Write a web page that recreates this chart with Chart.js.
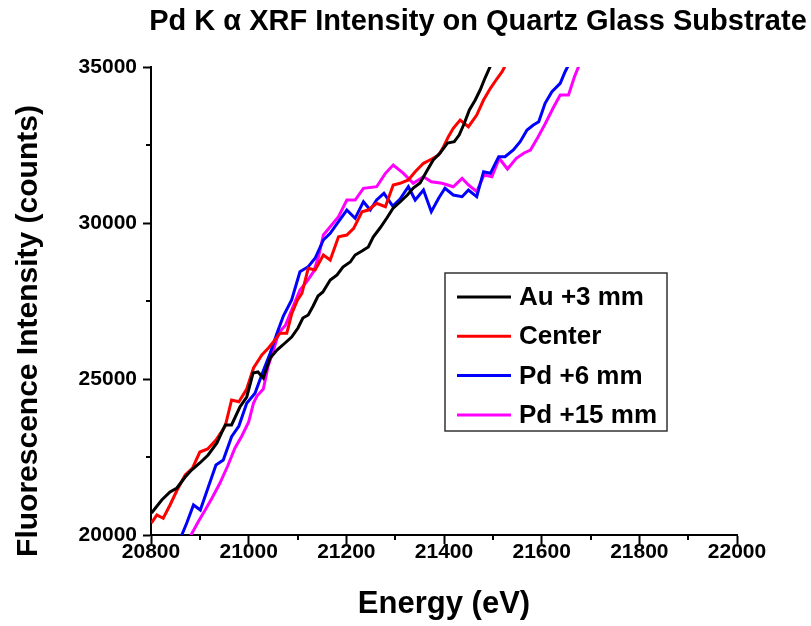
<!DOCTYPE html>
<html>
<head>
<meta charset="utf-8">
<title>Pd K α XRF Intensity</title>
<script src="https://cdn.jsdelivr.net/npm/chart.js@4.4.1/dist/chart.umd.min.js"></script>
<style>
  html, body { margin: 0; padding: 0; background: #fff; }
  canvas { display: block; }
</style>
</head>
<body>
<canvas id="xrfChart" width="811" height="626"></canvas>
<script>
// Pd K-alpha scans, energy (eV) vs counts, one pair of arrays per position
const energyAu = [20801, 20822, 20839, 20853, 20870, 20883, 20900, 20917, 20935, 20952, 20965, 20982, 20996, 21009, 21019, 21030, 21044, 21058, 21070, 21088, 21101, 21111, 21122, 21132, 21142, 21152, 21167, 21181, 21193, 21208, 21218, 21232, 21245, 21255, 21269, 21283, 21296, 21310, 21325, 21337, 21351, 21366, 21378, 21392, 21407, 21421, 21431, 21441, 21452, 21464, 21474, 21484, 21495, 21505];
const countsAu = [20705, 21122, 21378, 21506, 21859, 22083, 22308, 22564, 22949, 23526, 23526, 24102, 24423, 25192, 25224, 25032, 25673, 25929, 26090, 26346, 26634, 26955, 27051, 27339, 27660, 27788, 28173, 28333, 28589, 28750, 28974, 29102, 29230, 29551, 29839, 30160, 30480, 30673, 30897, 31121, 31282, 31698, 32019, 32243, 32564, 32605, 32820, 33173, 33621, 33942, 34262, 34647, 35031, 35384];

const energyCenter = [20801, 20812, 20825, 20839, 20853, 20870, 20885, 20900, 20916, 20933, 20952, 20965, 20980, 20996, 21010, 21027, 21040, 21051, 21064, 21078, 21088, 21100, 21109, 21122, 21136, 21153, 21167, 21184, 21201, 21215, 21232, 21245, 21262, 21280, 21296, 21310, 21327, 21341, 21358, 21375, 21389, 21399, 21409, 21419, 21433, 21450, 21467, 21481, 21495, 21508, 21519, 21525, 21536];
const countsCenter = [20385, 20641, 20535, 20962, 21426, 21923, 22147, 22660, 22756, 23045, 23493, 24327, 24272, 24679, 25352, 25769, 25984, 26195, 26464, 26464, 27083, 27532, 27747, 28548, 28493, 28974, 28814, 29561, 29615, 29830, 30362, 30416, 30631, 30522, 31218, 31272, 31378, 31644, 31913, 32051, 32179, 32445, 32766, 33035, 33301, 33086, 33461, 33942, 34317, 34615, 34849, 35031, 35320];

const energyPd6 = [20851, 20863, 20873, 20887, 20901, 20917, 20933, 20948, 20965, 20980, 20996, 21013, 21028, 21044, 21058, 21071, 21088, 21105, 21122, 21136, 21153, 21167, 21184, 21201, 21218, 21235, 21249, 21262, 21277, 21295, 21310, 21327, 21341, 21358, 21374, 21389, 21402, 21419, 21437, 21450, 21467, 21481, 21495, 21512, 21525, 21542, 21556, 21570, 21583, 21594, 21607, 21621, 21638, 21648, 21655, 21663];
const countsPd6 = [19519, 20000, 20375, 20962, 20801, 21522, 22244, 22404, 23151, 23493, 24221, 24542, 25183, 25824, 26464, 27019, 27532, 28439, 28599, 28868, 29455, 29669, 30042, 30416, 30150, 30683, 30416, 30737, 30951, 30544, 30769, 31163, 30737, 31057, 30362, 30791, 31112, 30897, 30843, 31057, 30843, 31644, 31592, 32125, 32125, 32339, 32605, 32980, 33141, 33246, 33836, 34208, 34477, 34849, 35064, 35352];

const energyPd15 = [20872, 20882, 20897, 20911, 20925, 20941, 20957, 20972, 20986, 21000, 21010, 21017, 21030, 21040, 21051, 21061, 21075, 21088, 21105, 21119, 21133, 21143, 21153, 21167, 21184, 21201, 21218, 21235, 21262, 21280, 21296, 21317, 21337, 21358, 21374, 21396, 21419, 21437, 21450, 21467, 21482, 21498, 21513, 21530, 21548, 21564, 21577, 21592, 21607, 21624, 21638, 21655, 21667, 21676, 21683];
const countsPd15 = [19680, 20000, 20433, 20801, 21186, 21657, 22211, 22788, 23173, 23622, 24231, 24455, 24679, 25416, 25929, 26464, 26714, 27211, 27852, 28118, 28439, 28919, 29615, 29881, 30202, 30737, 30737, 31112, 31163, 31592, 31859, 31592, 31272, 31484, 31323, 31272, 31163, 31432, 31218, 31003, 31538, 31484, 32073, 31730, 32073, 32243, 32339, 32740, 33173, 33701, 34102, 34102, 34679, 35031, 35288];

const seriesLabels = ['Au +3 mm', 'Center', 'Pd +6 mm', 'Pd +15 mm'];
const seriesColors = ['#000000', '#ff0000', '#0000ff', '#ff00ff'];

// axis limits and tick positions
const xRange = [20800, 22000];
const yRange = [20000, 35000];
const xMinorTicks = [20900, 21100, 21300, 21500, 21700, 21900];
const yMinorTicks = [22500, 27500, 32500];

const chartTitle = 'Pd K \u03b1 XRF Intensity on Quartz Glass Substrate';
const xTitle = 'Energy (eV)';
const yTitle = 'Fluorescence Intensity (counts)';

const FONT = '"Liberation Sans", Arial, Helvetica, sans-serif';

function toPoints(xs, ys) {
    return xs.map((x, i) => ({ x: x, y: ys[i] }));
}

const series = [
    toPoints(energyAu, countsAu),
    toPoints(energyCenter, countsCenter),
    toPoints(energyPd6, countsPd6),
    toPoints(energyPd15, countsPd15)
];

// title, rotated y title, minor ticks and the boxed legend
const extras = {
    id: 'extras',
    afterDraw(chart) {
        const ctx = chart.ctx;
        const xs = chart.scales.x;
        const ys = chart.scales.y;
        ctx.save();

        ctx.strokeStyle = '#000';
        ctx.lineWidth = 2;
        xMinorTicks.forEach(v => {
            const px = Math.round(xs.getPixelForValue(v));
            ctx.beginPath();
            ctx.moveTo(px, ys.bottom);
            ctx.lineTo(px, ys.bottom + 5);
            ctx.stroke();
        });
        yMinorTicks.forEach(v => {
            const py = Math.round(ys.getPixelForValue(v));
            ctx.beginPath();
            ctx.moveTo(xs.left, py);
            ctx.lineTo(xs.left - 5, py);
            ctx.stroke();
        });

        ctx.fillStyle = '#000';
        ctx.textAlign = 'center';
        ctx.textBaseline = 'middle';
        ctx.font = 'bold 29px ' + FONT;
        ctx.fillText(chartTitle, 478, 22);

        ctx.save();
        ctx.translate(29, 331);
        ctx.rotate(-Math.PI / 2);
        ctx.font = 'bold 30px ' + FONT;
        ctx.fillText(yTitle, 0, 0);
        ctx.restore();

        // legend box
        const box = { left: 445, top: 273, width: 222, height: 158 };
        ctx.strokeStyle = '#333';
        ctx.lineWidth = 1.5;
        ctx.fillStyle = '#fff';
        ctx.fillRect(box.left, box.top, box.width, box.height);
        ctx.strokeRect(box.left, box.top, box.width, box.height);
        ctx.font = 'bold 26px ' + FONT;
        ctx.textAlign = 'left';
        chart.data.datasets.forEach((ds, i) => {
            const cy = 297 + i * 39.3;
            ctx.strokeStyle = ds.borderColor;
            ctx.lineWidth = 3;
            ctx.beginPath();
            ctx.moveTo(457, cy);
            ctx.lineTo(511, cy);
            ctx.stroke();
            ctx.fillStyle = '#000';
            ctx.fillText(ds.label, 519, cy + 1);
        });

        ctx.restore();
    }
};

new Chart(document.getElementById('xrfChart'), {
    type: 'line',
    data: {
        datasets: series.map((pts, i) => ({
            label: seriesLabels[i],
            data: pts,
            borderColor: seriesColors[i],
            backgroundColor: seriesColors[i],
            borderWidth: 3,
            pointRadius: 0,
            tension: 0,
            fill: false,
            clip: 0
        }))
    },
    options: {
        responsive: false,
        animation: false,
        devicePixelRatio: 1,
        layout: { padding: { left: 0, right: 74, top: 67, bottom: 0 } },
        plugins: {
            legend: { display: false },
            title: { display: false },
            tooltip: { enabled: false }
        },
        scales: {
            x: {
                type: 'linear',
                min: xRange[0],
                max: xRange[1],
                afterFit: s => { s.height = 91; },
                border: { display: true, color: '#000', width: 2 },
                grid: { drawOnChartArea: false, drawTicks: true, tickLength: 9, tickColor: '#000', tickWidth: 2 },
                ticks: {
                    stepSize: 200,
                    color: '#000',
                    padding: -4,
                    maxRotation: 0,
                    autoSkip: false,
                    font: { family: FONT, size: 21, weight: 'bold' },
                    callback: v => String(v)
                },
                title: {
                    display: true,
                    text: xTitle,
                    color: '#000',
                    font: { family: FONT, size: 31, weight: 'bold' },
                    padding: { top: 0, bottom: 3 }
                }
            },
            y: {
                type: 'linear',
                min: yRange[0],
                max: yRange[1],
                afterFit: s => { s.width = 151; },
                border: { display: true, color: '#000', width: 2 },
                grid: { drawOnChartArea: false, drawTicks: true, tickLength: 8, tickColor: '#000', tickWidth: 2 },
                ticks: {
                    stepSize: 5000,
                    color: '#000',
                    padding: 6,
                    font: { family: FONT, size: 21, weight: 'bold' },
                    callback: v => String(v)
                }
            }
        }
    },
    plugins: [extras]
});
</script>
</body>
</html>
